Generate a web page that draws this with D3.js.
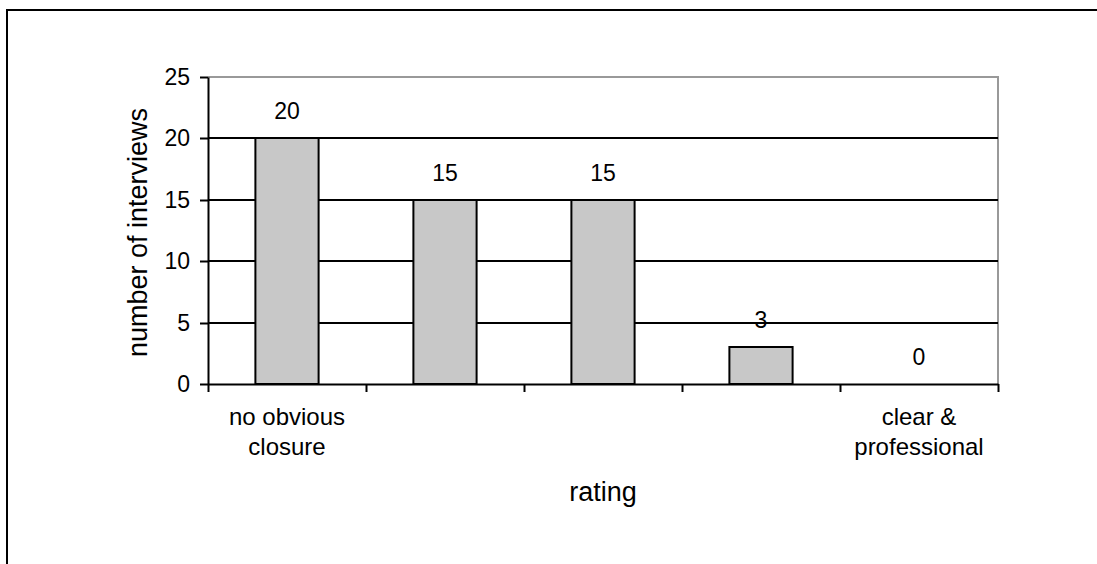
<!DOCTYPE html>
<html>
<head>
<meta charset="utf-8">
<script src="https://cdn.jsdelivr.net/npm/d3@7"></script>
<style>
  body { margin: 0; background: #fff; }
  svg { display: block; }
  text { font-family: "Liberation Sans", Arial, sans-serif; fill: #000; }
</style>
</head>
<body>
<svg id="chart" width="1097" height="564"></svg>
<script>
// Interview ratings: count of interviews per closure rating
const categoryLines = [["no obvious", "closure"], [], [], [], ["clear &", "professional"]];
const values = [20, 15, 15, 3, 0];
const yTicks = [0, 5, 10, 15, 20, 25];
const gridValues = [5, 10, 15, 20];
const xTitle = "rating";
const yTitle = "number of interviews";

const svg = d3.select("#chart");
const plotLeft = 208, plotRight = 998, plotTop = 77, plotBottom = 384;

// outer chart frame (runs off the right and bottom edges)
svg.append("rect")
  .attr("x", 7).attr("y", 10)
  .attr("width", 1200).attr("height", 700)
  .attr("fill", "none").attr("stroke", "#000").attr("stroke-width", 2);

const idx = d3.range(values.length);
const x = d3.scaleBand().domain(idx).range([plotLeft, plotRight])
  .paddingInner(0.6).paddingOuter(0.3);
const xEdge = d3.scaleLinear().domain([0, values.length]).range([plotLeft, plotRight]);
const y = d3.scaleLinear().domain([0, 25]).rangeRound([plotBottom, plotTop]);

// plot-area border: grey top and right edges
svg.append("path")
  .attr("d", `M${plotLeft},${y(25)}H${plotRight}V${plotBottom}`)
  .attr("fill", "none").attr("stroke", "#999").attr("stroke-width", 2);

// horizontal gridlines
svg.append("g").selectAll("line").data(gridValues).join("line")
  .attr("x1", plotLeft).attr("x2", plotRight)
  .attr("y1", d => y(d)).attr("y2", d => y(d))
  .attr("stroke", "#000").attr("stroke-width", 2);

// bars
svg.append("g").selectAll("rect").data(values).join("rect")
  .attr("x", (d, i) => x(i))
  .attr("y", d => y(d))
  .attr("width", x.bandwidth())
  .attr("height", d => y(0) - y(d))
  .attr("fill", "#c8c8c8")
  .attr("stroke", "#000").attr("stroke-width", 2);

// value labels
svg.append("g").selectAll("text").data(values).join("text")
  .attr("x", (d, i) => x(i) + x.bandwidth() / 2)
  .attr("y", d => y(d) - 19)
  .attr("text-anchor", "middle")
  .style("font-size", "23px")
  .text(d => d);

// y axis
const yAxis = svg.append("g")
  .attr("transform", `translate(${plotLeft},0)`)
  .call(d3.axisLeft(y).tickValues(yTicks).tickSize(8).tickSizeOuter(0).tickPadding(10));
yAxis.select(".domain").attr("stroke", "#000").attr("stroke-width", 2);
yAxis.selectAll(".tick line").attr("stroke", "#000").attr("stroke-width", 2);
yAxis.selectAll(".tick text").style("font-size", "23px").attr("fill", "#000");
yAxis.attr("font-family", null).attr("font-size", null);

// x axis: ticks between categories, labels drawn separately
const xAxis = svg.append("g")
  .attr("transform", `translate(0,${plotBottom})`)
  .call(d3.axisBottom(xEdge).tickValues(d3.range(values.length + 1)).tickSize(8).tickSizeOuter(0).tickFormat(""));
xAxis.select(".domain").attr("stroke", "#000").attr("stroke-width", 2);
xAxis.selectAll(".tick line").attr("stroke", "#000").attr("stroke-width", 2);

// category labels
const catG = svg.append("g").selectAll("text").data(categoryLines).join("text")
  .attr("text-anchor", "middle")
  .style("font-size", "24px");
catG.selectAll("tspan").data((d, i) => d.map(s => ({ s, i }))).join("tspan")
  .attr("x", d => x(d.i) + x.bandwidth() / 2)
  .attr("y", (d, j) => 425 + j * 30)
  .text(d => d.s);

// axis titles
svg.append("text")
  .attr("x", (plotLeft + plotRight) / 2).attr("y", 501)
  .attr("text-anchor", "middle")
  .style("font-size", "27px")
  .text(xTitle);

svg.append("text")
  .attr("transform", `translate(147,${(plotTop + plotBottom) / 2 + 2}) rotate(-90)`)
  .attr("text-anchor", "middle")
  .style("font-size", "27px")
  .text(yTitle);
</script>
</body>
</html>
